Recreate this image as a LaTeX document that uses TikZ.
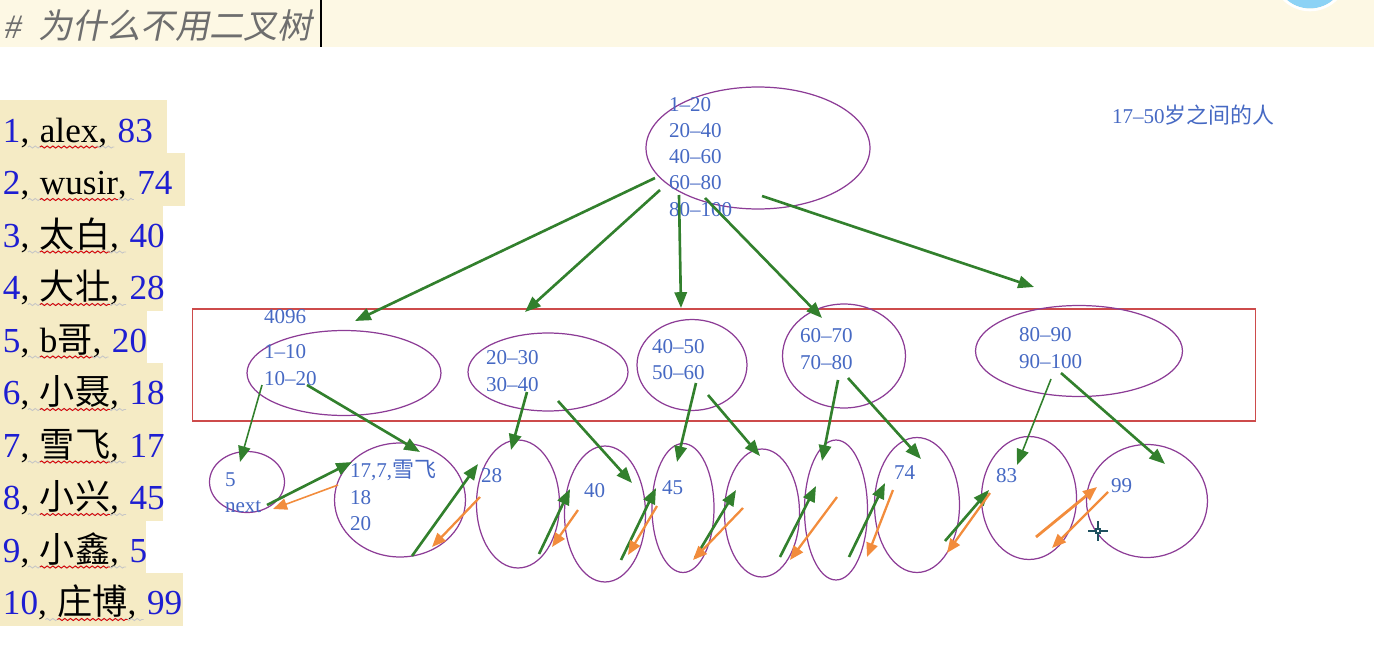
\documentclass[tikz,border=0pt]{standalone}
\usepackage{fontspec}
\setmainfont{Liberation Serif}
\newfontfamily\cjk{Noto Sans CJK SC}
\newfontfamily\cjkslant[FakeSlant=0.2]{Noto Sans CJK SC}
\usepackage{xcolor}
\usepackage{tikz}
\usetikzlibrary{shapes,arrows.meta,positioning,calc,decorations.pathmorphing}

\definecolor{bandyellow}{RGB}{253,248,228}
\definecolor{listbg}{RGB}{245,235,197}
\definecolor{listblue}{RGB}{30,30,210}
\definecolor{txtblue}{RGB}{70,105,195}
\definecolor{ellpurple}{RGB}{140,60,150}
\definecolor{boxred}{RGB}{205,75,75}
\definecolor{arrgreen}{RGB}{50,128,45}
\definecolor{arrorange}{RGB}{242,140,60}
\definecolor{titlegray}{RGB}{110,110,110}
\definecolor{capblue}{RGB}{140,210,245}
\definecolor{cursorteal}{RGB}{30,80,95}

\begin{document}
\begin{tikzpicture}[x=0.02cm, y=-0.02cm, outer sep=0pt,
    oval/.style={draw=ellpurple, ellipse, line width=0.7pt, inner sep=0pt},
    rng/.style={text=txtblue, align=left, anchor=base west, inner sep=0pt, font=\fontsize{12}{14.8}\selectfont},
    lst/.style={anchor=base west, inner sep=0pt, font=\fontsize{20}{24}\selectfont},
    grn/.style={draw=arrgreen, line width=1.5pt, -{Triangle[length=9pt,width=7pt]}},
    grnthin/.style={grn, line width=0.9pt},
    org/.style={draw=arrorange, line width=1.3pt, -{Triangle[length=8pt,width=6.5pt]}},
    wave/.style={decorate, decoration={snake, amplitude=0.6pt, segment length=3.2pt}, line width=0.5pt}]
    \useasboundingbox (0,0) rectangle (1374,649);

    % title bar
    \fill[bandyellow] (0,0) rectangle (1374,47);
    \begin{scope}
        \clip (1250,0) rectangle (1374,47);
        \fill[capblue] (1310,-27) circle (0.71cm);
        \draw[white, line width=1.5pt] (1310,-27) circle (0.74cm);
    \end{scope}
    \node[anchor=base west, inner sep=0pt, text=titlegray, font=\fontsize{19.5}{22}\selectfont] (title) at (5,38) {\textit{\#}\hspace{0.45em}{\cjkslant 为什么不用二叉树}};
    \draw[line width=1.3pt] (321,0) -- (321,47);

    % data rows
    \foreach \i/\nm/\sc/\w in {1/alex/83/167, 2/wusir/74/185, 3/{\cjk 太白}/40/163, 4/{\cjk 大壮}/28/163, 5/b{\cjk 哥}/20/147, 6/{\cjk 小聂}/18/163, 7/{\cjk 雪飞}/17/163, 8/{\cjk 小兴}/45/163, 9/{\cjk 小鑫}/5/146, 10/{\cjk 庄博}/99/183}{
        \fill[listbg] (0,{100+52.5*(\i-1)}) rectangle (\w,{100.5+52.5*\i});
        \node[lst] (num\i) at (3,{142+52.5*(\i-1)}) {\textcolor{listblue}{\i},\kern0.3em};
        \node[lst] (nm\i) at (num\i.base east) {\nm};
        \node[lst] (sc\i) at (nm\i.base east) {,\kern0.3em\textcolor{listblue}{\sc}};
        \draw[wave, gray!45] ($(num\i.base east)+(-12,5)$) -- ($(sc\i.base west)+(16,5)$);
        \draw[wave, red!85!black] ($(nm\i.base west)+(0,5)$) -- ($(nm\i.base east)+(0,5)$);
    }

    % index levels
    \node[draw=boxred, line width=0.6pt, minimum width=21.28cm, minimum height=2.24cm] (midbox) at (724,365) {};
    \node[oval, minimum width=4.48cm, minimum height=2.44cm] (root) at (758,148) {};
    \node[oval, minimum width=3.88cm, minimum height=1.70cm] (mid1) at (344,373) {};
    \node[oval, minimum width=3.20cm, minimum height=1.56cm] (mid2) at (548,372) {};
    \node[oval, minimum width=2.20cm, minimum height=1.82cm] (mid3) at (692,365) {};
    \node[oval, minimum width=2.46cm, minimum height=2.08cm] (mid4) at (844,356) {};
    \node[oval, minimum width=4.14cm, minimum height=1.82cm] (mid5) at (1079,351) {};

    \node[oval, minimum width=1.50cm, minimum height=1.22cm] (leaf1) at (247,482) {};
    \node[oval, minimum width=2.62cm, minimum height=2.28cm] (leaf2) at (400,500) {};
    \node[oval, minimum width=1.66cm, minimum height=2.56cm] (leaf3) at (518,504) {};
    \node[oval, minimum width=1.62cm, minimum height=2.72cm] (leaf4) at (605,514) {};
    \node[oval, minimum width=1.24cm, minimum height=2.58cm] (leaf5) at (683,508) {};
    \node[oval, minimum width=1.50cm, minimum height=2.56cm] (leaf6) at (762,513) {};
    \node[oval, minimum width=1.26cm, minimum height=2.80cm] (leaf7) at (836,510) {};
    \node[oval, minimum width=1.70cm, minimum height=2.70cm] (leaf8) at (917,505) {};
    \node[oval, minimum width=1.90cm, minimum height=2.46cm] (leaf9) at (1029,498) {};
    \node[oval, minimum width=2.42cm, minimum height=2.26cm] (leaf10) at (1147,501) {};

    % labels (anchored on the baseline of the last line)
    \node[rng] (roottxt) at (669,216) {1–20\\20–40\\40–60\\60–80\\80–100};
    \node[rng] (agetxt) at (1112,123) {17–50{\cjk\fontsize{12.5}{15}\selectfont 岁之间的人}};
    \node[rng] (sizetxt) at (264,323) {4096};
    \node[rng] (mid1txt) at (264,385) {1–10\\10–20};
    \node[rng] (mid2txt) at (486,391) {20–30\\30–40};
    \node[rng] (mid3txt) at (652,379) {40–50\\50–60};
    \node[rng] (mid4txt) at (800,369) {60–70\\70–80};
    \node[rng] (mid5txt) at (1019,368) {80–90\\90–100};
    \node[rng] (leaf1txt) at (225,512) {5\\next};
    \node[rng] (leaf2txt) at (350,530) {17,7,{\cjk\fontsize{12.5}{15}\selectfont 雪飞}\\18\\20};
    \node[rng] (leaf3txt) at (481,482) {28};
    \node[rng] (leaf4txt) at (584,497) {40};
    \node[rng] (leaf5txt) at (662,494) {45};
    \node[rng] (leaf8txt) at (894,479) {74};
    \node[rng] (leaf9txt) at (996,482) {83};
    \node[rng] (leaf10txt) at (1111,492) {99};

    % root -> middle
    \draw[grn] ($(root)+(-103,30)$) -- ($(mid1)+(11,-52)$);
    \draw[grn] ($(root)+(-98,42)$) -- ($(mid2)+(-23,-60)$);
    \draw[grn] ($(root)+(-79,47)$) -- ($(mid3)+(-11,-57)$);
    \draw[grn] ($(root)+(-53,50)$) -- ($(mid4)+(-22,-38)$);
    \draw[grn] ($(root)+(4,48)$) -- ($(mid5)+(-45,-64)$);

    % middle -> leaves
    \draw[grnthin] ($(mid1)+(-82,12)$) -- ($(leaf1)+(-7,-20)$);
    \draw[grn] ($(mid1)+(-37,12)$) -- ($(leaf2)+(20,-48)$);
    \draw[grn] ($(mid2)+(-21,20)$) -- ($(leaf3)+(-7,-54)$);
    \draw[grn] ($(mid2)+(10,29)$) -- ($(leaf4)+(27,-31)$);
    \draw[grn] ($(mid3)+(4,18)$) -- ($(leaf5)+(-6,-46)$);
    \draw[grn] ($(mid3)+(16,30)$) -- ($(leaf6)+(-2,-57)$);
    \draw[grn] ($(mid4)+(-6,24)$) -- ($(leaf7)+(-14,-49)$);
    \draw[grn] ($(mid4)+(4,22)$) -- ($(leaf8)+(4,-46)$);
    \draw[grnthin] ($(mid5)+(-28,28)$) -- ($(leaf9)+(-12,-33)$);
    \draw[grn] ($(mid5)+(-18,22)$) -- ($(leaf10)+(18,-37)$);

    % leaf chain forward
    \draw[grn] ($(leaf1)+(20,23)$) -- ($(leaf2)+(-48,-38)$);
    \draw[grn] ($(leaf2)+(12,56)$) -- ($(leaf3)+(-40,-40)$);
    \draw[grn] ($(leaf3)+(21,50)$) -- ($(leaf4)+(-35,-25)$);
    \draw[grn] ($(leaf4)+(16,46)$) -- ($(leaf5)+(-27,-20)$);
    \draw[grn] ($(leaf5)+(12,50)$) -- ($(leaf6)+(-26,-23)$);
    \draw[grn] ($(leaf6)+(18,44)$) -- ($(leaf7)+(-20,-24)$);
    \draw[grn] ($(leaf7)+(13,47)$) -- ($(leaf8)+(-32,-22)$);
    \draw[grn] ($(leaf8)+(28,36)$) -- ($(leaf9)+(-40,-8)$);
    \draw[org, line width=1.6pt] ($(leaf9)+(7,39)$) -- ($(leaf10)+(-50,-14)$);

    % leaf chain backward
    \draw[org, line width=0.9pt] ($(leaf2)+(-62,-15)$) -- ($(leaf1)+(26,27)$);
    \draw[org] ($(leaf3)+(-38,-7)$) -- ($(leaf2)+(32,47)$);
    \draw[org] ($(leaf4)+(-27,-4)$) -- ($(leaf3)+(34,43)$);
    \draw[org] ($(leaf5)+(-26,-2)$) -- ($(leaf4)+(23,41)$);
    \draw[org] ($(leaf6)+(-19,-5)$) -- ($(leaf5)+(10,52)$);
    \draw[org] ($(leaf7)+(1,-13)$) -- ($(leaf6)+(28,47)$);
    \draw[org] ($(leaf8)+(-24,-15)$) -- ($(leaf7)+(31,47)$);
    \draw[org] ($(leaf9)+(-39,-5)$) -- ($(leaf8)+(30,48)$);
    \draw[org] ($(leaf10)+(-39,-9)$) -- ($(leaf9)+(23,50)$);

    % mouse cursor
    \draw[cursorteal, line width=0.9pt] (1088,531) -- (1108,531) (1098,521) -- (1098,541);
    \draw[cursorteal, line width=0.7pt, fill=white] (1096,529) rectangle (1100,533);
\end{tikzpicture}
\end{document}
